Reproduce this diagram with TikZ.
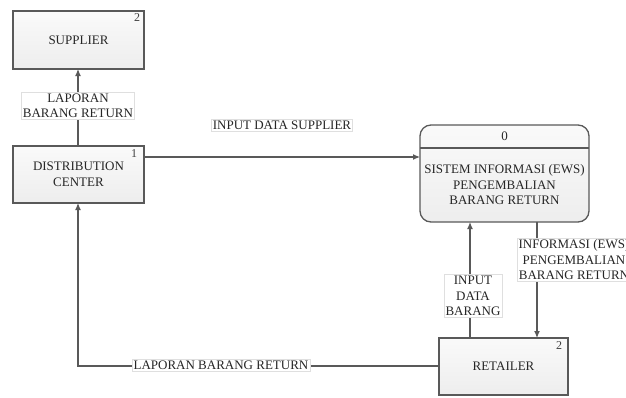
\documentclass[tikz,border=0pt]{standalone}
\usepackage{fontspec}
\setmainfont{Liberation Serif}
\usetikzlibrary{arrows.meta}
\begin{document}
\begin{tikzpicture}[x=1pt,y=-1pt,
  txt/.style={font=\fontsize{13}{15.5}\selectfont, text=black!85, align=center},
  entity/.style={draw=black!65, line width=1.3pt, top color=gray!4, bottom color=gray!14},
  flow/.style={draw=black!65, line width=1.2pt, -{Latex[length=7pt,width=6pt]}},
  flowlbl/.style={txt, fill=white, draw=gray!25, inner sep=1.5pt},
  num/.style={font=\fontsize{12}{13}\selectfont, text=black!75, inner sep=0pt}]
\useasboundingbox (0,0) rectangle (626,397);

% external entities
\path[entity] (13,11) rectangle (144,69);
\node[txt] (sup) at (78.5,40) {SUPPLIER};
\node[num] (supn) at (137,18) {2};
\coordinate (supS) at (78,69);

\path[entity] (13,146) rectangle (144,203);
\node[txt] (dc) at (78.5,174.5) {DISTRIBUTION\\CENTER};
\node[num] (dcn) at (134,154) {1};
\coordinate (dcN) at (78,146);
\coordinate (dcS) at (78,203);
\coordinate (dcE) at (144,157);

\path[entity] (439,338) rectangle (568,395);
\node[txt] (ret) at (503.5,366) {RETAILER};
\node[num] (retn) at (559,346) {2};
\coordinate (retW) at (439,366);
\coordinate (retA) at (470,338);
\coordinate (retB) at (537,338);

% process
\path[entity, rounded corners=11pt] (420,125) rectangle (589,222);
\draw[black!65, line width=1.2pt] (420,148) -- (589,148);
\node[txt] (sysn) at (504.5,136) {0};
\node[txt] (sys) at (504.5,185) {SISTEM INFORMASI (EWS)\\PENGEMBALIAN\\BARANG RETURN};
\coordinate (sysW) at (420,157);
\coordinate (sysA) at (470,222);
\coordinate (sysB) at (537,222);
\coordinate (corner) at (78,366);

% data flows
\draw[flow] (dcN) -- (supS);
\draw[flow] (dcE) -- (sysW);
\draw[flow] (retA) -- (sysA);
\draw[flow] (sysB) -- (retB);
\draw[flow] (retW) -- (corner) -- (dcS);

% flow labels
\node[flowlbl] (l1) at (78,106) {LAPORAN\\BARANG RETURN};
\node[flowlbl] (l2) at (282,125) {INPUT DATA SUPPLIER};
\node[flowlbl] (l3) at (473,296) {INPUT\\DATA\\BARANG};
\node[flowlbl] (l4) at (574,260) {INFORMASI (EWS)\\PENGEMBALIAN\\BARANG RETURN};
\node[flowlbl] (l5) at (221,365) {LAPORAN BARANG RETURN};
\end{tikzpicture}
\end{document}
